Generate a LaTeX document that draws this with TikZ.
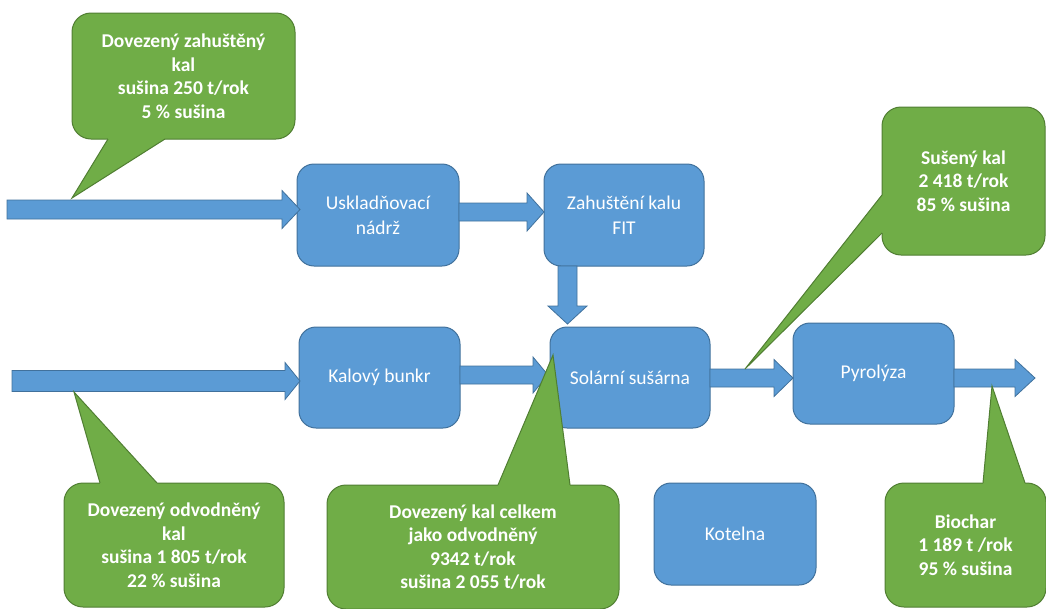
\documentclass[tikz,border=0pt]{standalone}
\usepackage{fontspec}
\setmainfont{Carlito}
\usetikzlibrary{calc}
\definecolor{boxblue}{HTML}{5B9BD5}
\definecolor{boxline}{HTML}{41719C}
\definecolor{callgreen}{HTML}{70AD47}
\definecolor{callline}{HTML}{507E32}
\tikzset{
  procbox/.style={draw=boxline, fill=boxblue, line width=1pt, rounded corners=17pt,
    text=white, align=center, font=\fontsize{19.5}{25}\selectfont, outer sep=0pt, inner sep=0pt},
  callbody/.style={draw=callline, fill=callgreen, line width=1pt, rounded corners=19pt,
    text=white, align=center, font=\fontsize{19.5}{23.5}\selectfont\bfseries, outer sep=0pt, inner sep=0pt},
  barrow/.style={draw=boxline, fill=boxblue, line width=0.8pt, line join=miter},
  tailfill/.style={fill=callgreen},
  tailline/.style={draw=callline, line width=1pt, line join=miter},
}
% horizontal block arrow: start, end, half shaft, half head, head length
\newcommand\hblockarrow[5]{%
  \path[barrow] let \p1=(#1), \p2=(#2) in
    (\x1,\y1+#3pt) -- (\x2-#5pt,\y1+#3pt) -- (\x2-#5pt,\y1+#4pt) -- (\x2,\y1)
    -- (\x2-#5pt,\y1-#4pt) -- (\x2-#5pt,\y1-#3pt) -- (\x1,\y1-#3pt) -- cycle;}
% downward block arrow
\newcommand\vblockarrow[5]{%
  \path[barrow] let \p1=(#1), \p2=(#2) in
    (\x1+#3pt,\y1) -- (\x1+#3pt,\y2+#5pt) -- (\x1+#4pt,\y2+#5pt) -- (\x1,\y2)
    -- (\x1-#4pt,\y2+#5pt) -- (\x1-#3pt,\y2+#5pt) -- (\x1-#3pt,\y1) -- cycle;}
% callout tail: base1, base2, inward shift, tip
\newcommand\calltail[4]{%
  \fill[tailfill] ($(#1)+(#3)$) -- (#1) -- (#4) -- (#2) -- ($(#2)+(#3)$) -- cycle;
  \draw[tailline] (#1) -- (#4) -- (#2);}
\begin{document}
\begin{tikzpicture}[x=1pt,y=-1pt]
\useasboundingbox (0,0) rectangle (1046,608);

% process boxes
\node[procbox, minimum width=162pt, minimum height=102pt] (uskl) at (378,215) {Uskladňovací\\nádrž};
\node[procbox, minimum width=160pt, minimum height=102pt] (zahu) at (624,215) {Zahuštění kalu\\FIT};
\node[procbox, minimum width=161pt, minimum height=101pt] (kal) at (379.5,377.5) {Kalový bunkr};
\node[procbox, minimum width=160pt, minimum height=101pt] (sol) at (630,377.5) {Solární sušárna};
\node[procbox, minimum width=161pt, minimum height=101pt] (pyr) at (873.5,373.5) {Pyrolýza};
\node[procbox, minimum width=162pt, minimum height=102pt] (kot) at (735,534) {Kotelna};

% free ends of the arrows
\coordinate (a1s) at (7,209.5);
\coordinate (a4s) at (12,381);
\coordinate (a7e) at (1035,378);

% block arrows
\hblockarrow{a1s}{$(uskl.west)+(3,0)$}{9.5}{19}{18}
\hblockarrow{$(uskl.east)+(0,-3)$}{zahu.west}{9}{19}{17}
\vblockarrow{$(zahu.south)+(-56.5,0)$}{$(sol.north)+(0,-3)$}{9.5}{19.5}{18}
\hblockarrow{a4s}{$(kal.west)+(1,0)$}{10.5}{18.5}{15}
\hblockarrow{$(kal.east)+(0,-2.5)$}{$(sol.west)+(-2,0)$}{9}{18}{15}
\hblockarrow{$(sol.east)+(0,0.5)$}{pyr.west}{9}{18.5}{19}
\hblockarrow{$(pyr.east)+(0,4.5)$}{a7e}{9}{18.5}{20}

% callouts
\node[callbody, minimum width=223pt, minimum height=126pt] (c1) at (183.5,76)
  {Dovezený zahuštěný\\kal\\sušina 250 t/rok\\5 \% sušina};
\coordinate (t1) at (72,198);
\calltail{$(c1.south west)+(36,0)$}{$(c1.south west)+(93,0)$}{0,-2}{t1}

\node[callbody, minimum width=163pt, minimum height=148pt] (c2) at (963.5,181)
  {Sušený kal\\2 418 t/rok\\85 \% sušina};
\coordinate (t2) at (745,369);
\calltail{$(c2.north west)+(0,88)$}{$(c2.north west)+(0,126)$}{2,0}{t2}

\node[callbody, minimum width=220pt, minimum height=124pt] (c3) at (174,545)
  {Dovezený odvodněný\\kal\\sušina 1 805 t/rok\\22 \% sušina};
\coordinate (t3) at (74,392);
\calltail{$(c3.north west)+(36,0)$}{$(c3.north west)+(93,0)$}{0,2}{t3}

\node[callbody, minimum width=292pt, minimum height=124pt] (c4) at (473,547)
  {Dovezený kal celkem\\jako odvodněný\\9342 t/rok\\sušina 2 055 t/rok};
\coordinate (t4) at (553,355);
\calltail{$(c4.north west)+(171,0)$}{$(c4.north west)+(243,0)$}{0,2}{t4}

\node[callbody, minimum width=161pt, minimum height=124pt] (c5) at (965.5,545)
  {Biochar\\1 189 t /rok\\95 \% sušina};
\coordinate (t5) at (992,386);
\calltail{$(c5.north west)+(98,0)$}{$(c5.north west)+(140,0)$}{0,2}{t5}
\end{tikzpicture}
\end{document}
